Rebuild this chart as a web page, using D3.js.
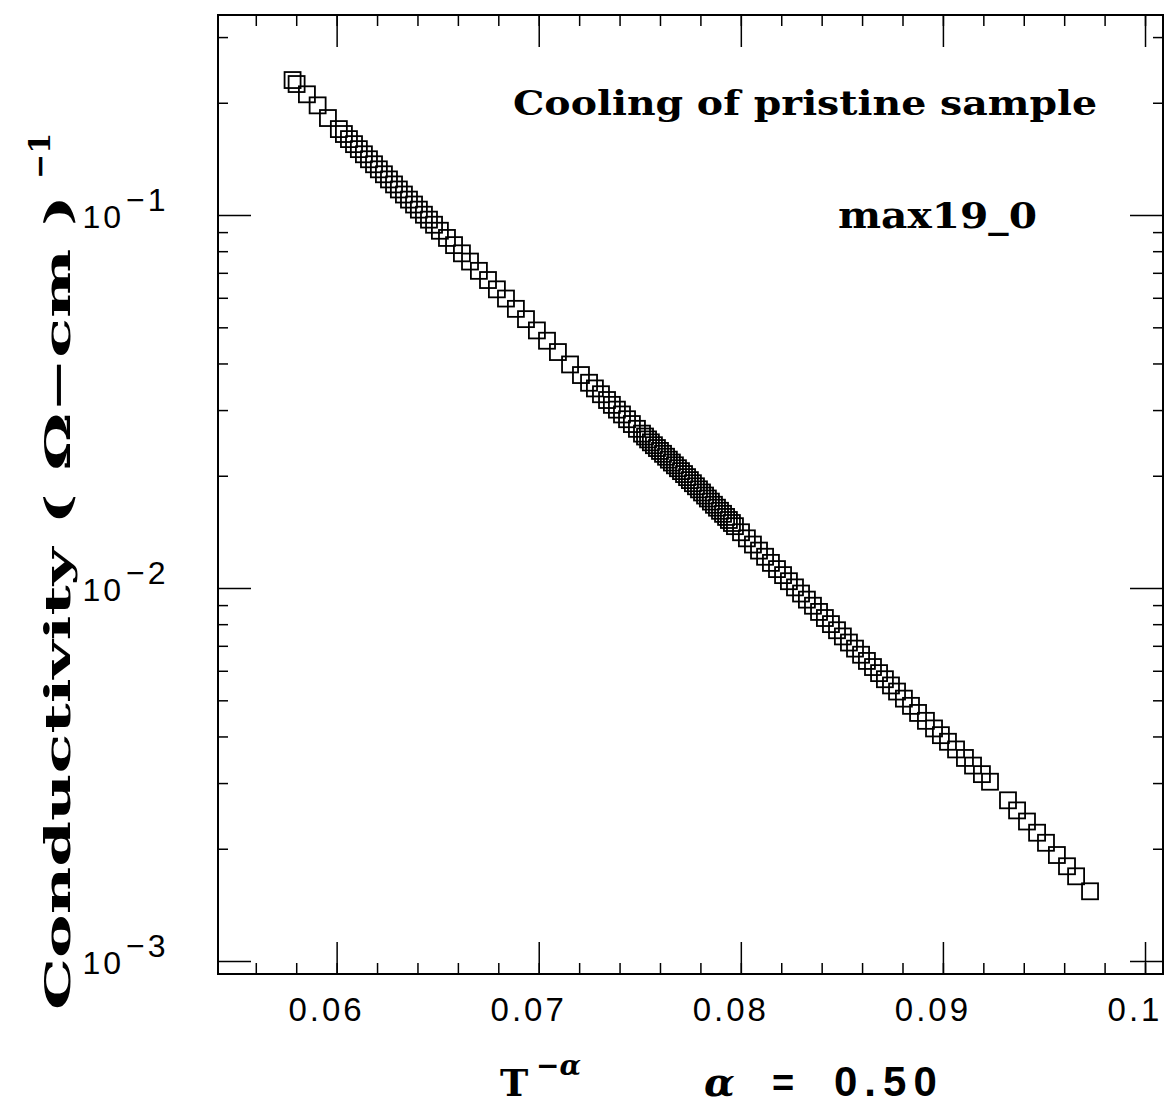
<!DOCTYPE html>
<head>
<meta charset="utf-8">
<title>Conductivity vs T^-alpha</title>
<style>
body{margin:0;background:#fff;}
svg{display:block;}
.tick line{stroke:#000;stroke-width:1.5;}
.tlab{font-family:"Liberation Sans",Arial,sans-serif;font-size:33px;letter-spacing:3px;fill:#000;}
.ylab{font-family:"Liberation Sans",Arial,sans-serif;font-size:32px;letter-spacing:3px;fill:#000;}
.ttl{font-family:"DejaVu Serif",serif;font-weight:bold;fill:#000;}
</style>
<script src="https://d3js.org/d3.v7.min.js"></script>
</head>
<body>
<svg id="chart" width="1166" height="1104"></svg>
<script>
// T^-alpha (alpha = 0.50)
var tAlpha = [0.05782,0.05802,0.05853,0.05906,0.05957,0.06011,0.06036,0.06061,0.06086,0.06110,
  0.06135,0.06160,0.06185,0.06209,0.06234,0.06259,0.06284,0.06308,0.06333,0.06358,
  0.06383,0.06407,0.06432,0.06457,0.06482,0.06511,0.06546,0.06581,0.06620,0.06660,
  0.06704,0.06749,0.06793,0.06838,0.06887,0.06937,0.06991,0.07041,0.07095,0.07155,
  0.07209,0.07249,0.07278,0.07308,0.07338,0.07362,0.07387,0.07412,0.07437,0.07461,
  0.07486,0.07511,0.07526,0.07541,0.07555,0.07570,0.07585,0.07600,0.07615,0.07630,
  0.07644,0.07659,0.07674,0.07689,0.07704,0.07719,0.07734,0.07748,0.07763,0.07778,
  0.07793,0.07808,0.07823,0.07837,0.07852,0.07867,0.07882,0.07897,0.07912,0.07927,
  0.07941,0.07956,0.07971,0.08001,0.08030,0.08060,0.08090,0.08120,0.08149,0.08179,
  0.08209,0.08238,0.08268,0.08298,0.08327,0.08357,0.08387,0.08416,0.08446,0.08476,
  0.08505,0.08535,0.08565,0.08595,0.08624,0.08654,0.08684,0.08713,0.08743,0.08773,
  0.08807,0.08842,0.08877,0.08916,0.08956,0.08990,0.09025,0.09065,0.09109,0.09149,
  0.09193,0.09233,0.09322,0.09367,0.09416,0.09466,0.09510,0.09564,0.09614,0.09659,
  0.09728];

// conductivity (ohm-cm)^-1
var sigma = [0.2301,0.2245,0.2107,0.1968,0.1820,0.1700,0.1649,0.1598,0.1549,0.1502,
  0.1455,0.1411,0.1368,0.1326,0.1286,0.1246,0.1208,0.1171,0.1135,0.1100,
  0.1067,0.1034,0.1002,0.09720,0.09419,0.09076,0.08682,0.08305,0.07895,0.07504,
  0.07086,0.06695,0.06321,0.05972,0.05604,0.05259,0.04905,0.04603,0.04292,0.03976,
  0.03724,0.03551,0.03429,0.03308,0.03192,0.03098,0.03008,0.02920,0.02835,0.02752,
  0.02672,0.02594,0.02548,0.02503,0.02458,0.02415,0.02373,0.02331,0.02290,0.02249,
  0.02209,0.02170,0.02133,0.02095,0.02058,0.02021,0.01983,0.01947,0.01910,0.01874,
  0.01839,0.01804,0.01770,0.01738,0.01705,0.01672,0.01642,0.01611,0.01581,0.01551,
  0.01522,0.01494,0.01465,0.01411,0.01359,0.01308,0.01260,0.01213,0.01168,0.01124,
  0.01083,0.01043,0.01004,0.009666,0.009309,0.008965,0.008629,0.008310,0.008003,0.007706,
  0.007417,0.007143,0.006880,0.006625,0.006376,0.006140,0.005914,0.005695,0.005481,0.005278,
  0.005052,0.004832,0.004625,0.004405,0.004203,0.004032,0.003871,0.003692,0.003503,0.003342,
  0.003170,0.003025,0.002697,0.002534,0.002366,0.002208,0.002075,0.001924,0.001795,0.001687,
  0.001538];

var xMajor = [0.06,0.07,0.08,0.09,0.1];
var xLabels = ["0.06","0.07","0.08","0.09","0.1"];
var xMinor = d3.range(0.056,0.1001,0.002);
var yMajor = [1e-3,1e-2,1e-1];
var yExp = ["\u22123","\u22122","\u22121"];
var yMinor = [];
[1e-3,1e-2,1e-1].forEach(function(d){
  for(var k=2;k<=9;k++){ yMinor.push(d*k); }
});

var L = 218, R = 1163, T = 15, B = 974;
var svg = d3.select("#chart");

var x = d3.scaleLinear().domain([0.05413,0.10089]).range([L,R]);
var y = d3.scaleLog().domain([0.000923,0.3438]).range([B,T]);

//ticks on the 4 sides (all pointing inward)
function addAxis(gen, tx, ty){
  var g = svg.append("g").attr("transform","translate("+tx+","+ty+")").call(gen);
  g.select(".domain").remove();
  return g;
}
addAxis(d3.axisBottom(x).tickValues(xMinor).tickSize(-11).tickFormat(""),0,B);
addAxis(d3.axisBottom(x).tickValues(xMajor).tickSize(-32).tickFormat(""),0,B);
addAxis(d3.axisTop(x).tickValues(xMinor).tickSize(-11).tickFormat(""),0,T);
addAxis(d3.axisTop(x).tickValues(xMajor).tickSize(-32).tickFormat(""),0,T);
addAxis(d3.axisLeft(y).tickValues(yMinor).tickSize(-10).tickFormat(""),L,0);
addAxis(d3.axisLeft(y).tickValues(yMajor).tickSize(-33).tickFormat(""),L,0);
addAxis(d3.axisRight(y).tickValues(yMinor).tickSize(-10).tickFormat(""),R,0);
addAxis(d3.axisRight(y).tickValues(yMajor).tickSize(-33).tickFormat(""),R,0);

//frame
svg.append("rect").attr("x",L).attr("y",T).attr("width",R-L).attr("height",B-T)
  .attr("fill","none").attr("stroke","#000").attr("stroke-width",2);

//x tick labels (sit a little left of their ticks, as in the original)
svg.selectAll(".xl").data(xMajor).enter().append("text")
  .attr("class","tlab").attr("text-anchor","middle")
  .attr("x",function(d){return x(d)-10;}).attr("y",1021)
  .text(function(d,i){return xLabels[i];});

//y tick labels
svg.selectAll(".yl").data(yMajor).enter().append("text")
  .attr("class","ylab").attr("text-anchor","end")
  .attr("x",124).attr("y",function(d){return y(d)+13;})
  .text("10");
svg.selectAll(".ye").data(yMajor).enter().append("text")
  .attr("class","ylab").attr("x",126).attr("y",function(d){return y(d)-4;})
  .text(function(d,i){return yExp[i];});

//data
svg.append("g").selectAll("rect").data(tAlpha).enter().append("rect")
  .attr("x",function(d){return x(d)-8;})
  .attr("y",function(d,i){return y(sigma[i])-8;})
  .attr("width",16).attr("height",16)
  .attr("fill","none").attr("stroke","#000").attr("stroke-width",1.8);

//annotations
svg.append("text").attr("class","ttl").attr("x",513).attr("y",115)
  .attr("font-size",34).attr("textLength",584).attr("lengthAdjust","spacingAndGlyphs")
  .text("Cooling of pristine sample");
svg.append("text").attr("class","ttl").attr("x",838).attr("y",228)
  .attr("font-size",35).attr("textLength",199).attr("lengthAdjust","spacingAndGlyphs")
  .text("max19_0");

//y title
var yt = svg.append("text").attr("class","ttl").attr("font-size",36)
  .attr("transform","translate(70,1010) rotate(-90)");
yt.append("tspan").attr("textLength",815).attr("lengthAdjust","spacingAndGlyphs")
  .text("Conductivity ( \u03a9\u2212cm )");
yt.append("tspan").attr("dx",16).attr("dy",-20).attr("font-size",30).text("\u22121");

//x title
svg.append("text").attr("class","ttl").attr("x",500).attr("y",1096).attr("font-size",38).text("T");
svg.append("text").attr("class","ttl").attr("x",536).attr("y",1075).attr("font-size",28)
  .text("\u2212").append("tspan").attr("font-style","italic").text("\u03b1");
svg.append("text").attr("class","ttl").attr("x",704).attr("y",1096).attr("font-size",40)
  .attr("font-style","italic").text("\u03b1");
svg.append("text").attr("x",772).attr("y",1096).attr("font-size",38)
  .attr("font-family","Liberation Sans, Arial, sans-serif").attr("font-weight","bold").text("=");
svg.append("text").attr("x",834).attr("y",1096).attr("font-size",42).attr("letter-spacing",7)
  .attr("font-family","Liberation Sans, Arial, sans-serif").attr("font-weight","bold").text("0.50");
</script>
</body>
</html>
